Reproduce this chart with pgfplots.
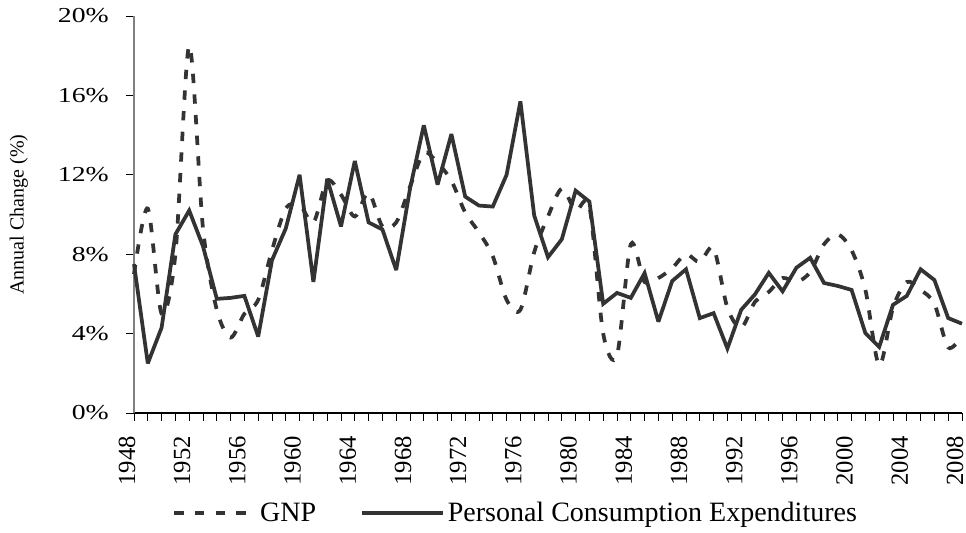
\documentclass[border=0pt]{standalone}
\usepackage{fontspec}
\setmainfont{Liberation Serif}
\usepackage{pgfplots}
\pgfplotsset{compat=1.18}
\definecolor{ln}{RGB}{51,51,51}
\definecolor{axgray}{RGB}{128,128,128}

\pgfplotstableread{
year gnp
1948 7.0
1949 10.3
1950 5.0
1951 8.0
1952 18.5
1953 9.3
1954 5.2
1955 3.8
1956 5.0
1957 5.7
1958 8.2
1959 10.3
1960 10.5
1961 9.6
1962 11.7
1963 11.0
1964 9.9
1965 11.1
1966 9.4
1967 9.6
1968 11.4
1969 13.1
1970 12.6
1971 11.7
1972 10.1
1973 9.1
1974 7.9
1975 5.7
1976 5.2
1977 8.1
1978 9.9
1979 11.3
1980 10.2
1981 10.4
1982 4.0
1983 2.9
1984 8.5
1985 6.6
1986 6.8
1987 7.3
1988 8.0
1989 7.6
1990 8.3
1991 5.3
1992 4.3
1993 5.6
1994 6.1
1995 6.8
1996 6.6
1997 7.1
1998 8.5
1999 9.0
2000 8.2
2001 6.2
2002 2.4
2003 5.3
2004 6.6
2005 6.2
2006 5.5
2007 3.3
2008 3.9
}\gnptable

\pgfplotstableread{
year pce
1948 7.5
1949 2.5
1950 4.3
1951 9.0
1952 10.2
1953 8.4
1954 5.75
1955 5.8
1956 5.9
1957 3.85
1958 7.7
1959 9.3
1960 12.0
1961 6.6
1962 11.8
1963 9.4
1964 12.7
1965 9.6
1966 9.25
1967 7.2
1968 11.3
1969 14.5
1970 11.5
1971 14.05
1972 10.9
1973 10.45
1974 10.4
1975 12.0
1976 15.7
1977 9.95
1978 7.85
1979 8.75
1980 11.2
1981 10.65
1982 5.5
1983 6.05
1984 5.8
1985 7.05
1986 4.6
1987 6.65
1988 7.24
1989 4.78
1990 5.03
1991 3.25
1992 5.2
1993 5.98
1994 7.06
1995 6.13
1996 7.32
1997 7.82
1998 6.55
1999 6.4
2000 6.2
2001 4.02
2002 3.33
2003 5.45
2004 5.9
2005 7.24
2006 6.7
2007 4.78
2008 4.5
}\pcetable

\newcommand{\yl}[1]{\scalebox{1.3}[1]{#1}}
\newcommand{\xl}[1]{\rotatebox{90}{#1}}

\begin{document}
\begin{tikzpicture}[x=1pt,y=1pt]
\useasboundingbox (0,0) rectangle (724.5,399);
\begin{axis}[
  at={(100.5pt,89.25pt)}, anchor=south west,
  scale only axis, width=621pt, height=297.75pt,
  xmin=1948, xmax=2008, ymin=0, ymax=20,
  axis lines=left,
  axis line style={-},
  x axis line style={black, line width=0.8pt},
  y axis line style={axgray, line width=0.8pt},
  xtick={1948,1952,...,2008},
  xticklabels={\xl{1948},\xl{1952},\xl{1956},\xl{1960},\xl{1964},\xl{1968},\xl{1972},\xl{1976},\xl{1980},\xl{1984},\xl{1988},\xl{1992},\xl{1996},\xl{2000},\xl{2004},\xl{2008}},
  minor xtick={1948,1949,...,2008},
  ytick={0,4,...,20},
  yticklabels={\yl{0\%},\yl{4\%},\yl{8\%},\yl{12\%},\yl{16\%},\yl{20\%}},
  tick align=outside,
  major tick length=6pt,
  minor tick length=6pt,
  tick style={black, line width=0.6pt},
  x tick label style={anchor=north, inner sep=0pt, xshift=-5.25pt, yshift=-11.25pt, font=\fontsize{18.5}{18.5}\selectfont},
  y tick label style={anchor=east, inner sep=0pt, xshift=-12.75pt, font=\fontsize{16}{16}\selectfont},
  ylabel={Annual Change (\%)},
  ylabel style={at={(axis description cs:-0.139,0.5)}, rotate=0, anchor=center, font=\fontsize{15}{15}\selectfont},
  legend columns=2,
  legend style={at={(axis description cs:0.046,-0.252)}, anchor=west, draw=none, fill=none,
    font=\fontsize{21}{21}\selectfont, inner sep=0pt,
    /tikz/every even column/.append style={column sep=31pt}},
  legend cell align=left,
  legend image code/.code={\draw[#1] (0pt,0pt) -- (61pt,0pt);},
  clip=false,
]
\addplot[ln, line width=2.8pt, smooth, dash pattern=on 7pt off 8.5pt, line cap=butt] table[x=year, y=gnp] {\gnptable};
\addlegendentry{GNP}
\addplot[ln, line width=2.8pt, line join=miter, miter limit=3] table[x=year, y=pce] {\pcetable};
\addlegendentry{Personal Consumption Expenditures}
\end{axis}
\end{tikzpicture}
\end{document}
